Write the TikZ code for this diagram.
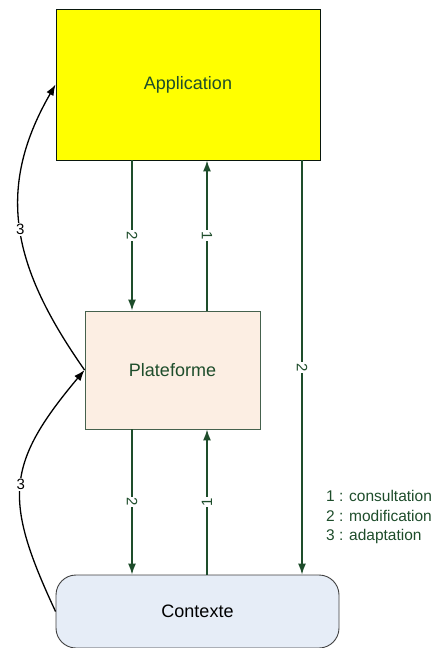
\documentclass[tikz,border=0pt]{standalone}
\usepackage{fontspec}
\setmainfont{Liberation Sans}
\usetikzlibrary{arrows.meta}

\definecolor{leaf}{HTML}{1E4D2B}
\definecolor{appfill}{HTML}{FFFF00}
\definecolor{platfill}{HTML}{FCEEE3}
\definecolor{ctxfill}{HTML}{E6EDF7}

\begin{document}
\begin{tikzpicture}
 [ x=1pt, y=1pt
 , box/.style={draw, line width=0.9pt, inner sep=0pt, font=\fontsize{18}{20}\selectfont}
 , flow/.style={leaf, line width=1.4pt, -{Latex[length=11pt,width=8pt]}}
 , adapt/.style={black, line width=1.3pt, -{Latex[length=11pt,width=8pt]}}
 , tag/.style={fill=white, inner sep=1pt, font=\fontsize{15}{15}\selectfont}
 ]
  \useasboundingbox (0,0) rectangle (433,-648);
  \clip (0,0) rectangle (433,-648);

  \node [box, draw=black!70!leaf, fill=appfill, text=leaf,
         minimum width=264, minimum height=151] (app) at (188,-84.5) {Application};
  \node [box, draw=leaf!60!gray, fill=platfill, text=leaf,
         minimum width=175, minimum height=118] (plat) at (172.5,-370) {Plateforme};
  \node [box, draw=black!75, fill=ctxfill, rounded corners=20pt,
         minimum width=283, minimum height=73] (ctx) at (197.5,-611.5) {Contexte};

  % columns of the vertical arrows
  \coordinate (left)  at (132,0);
  \coordinate (mid)   at (207,0);
  \coordinate (right) at (302,0);

  \draw [flow] (app.south -| left) -- (plat.north -| left)
    node [midway, tag, text=leaf, rotate=-90] {2};
  \draw [flow] (plat.north -| mid) -- (app.south -| mid)
    node [midway, tag, text=leaf, rotate=-90] {1};
  \draw [flow] (app.south -| right) -- (ctx.north -| right)
    node [midway, tag, text=leaf, rotate=-90] {2};
  \draw [flow] (plat.south -| left) -- (ctx.north -| left)
    node [midway, tag, text=leaf, rotate=-90] {2};
  \draw [flow] (ctx.north -| mid) -- (plat.south -| mid)
    node [midway, tag, text=leaf, rotate=90] {1};

  % adaptation
  \draw [adapt] (plat.west) to [out=125, in=240, looseness=1.1]
    node [midway, tag] {3} (app.west);
  \draw [adapt] (ctx.west) to [out=115, in=230, looseness=1.3]
    node [midway, tag] {3} (plat.west);

  \node [anchor=west, align=left, text=leaf, inner sep=0pt,
         font=\fontsize{15.5}{19.5}\selectfont] (legend) at (326,-517)
    {1 : consultation\\2 : modification\\3 : adaptation};
\end{tikzpicture}
\end{document}
